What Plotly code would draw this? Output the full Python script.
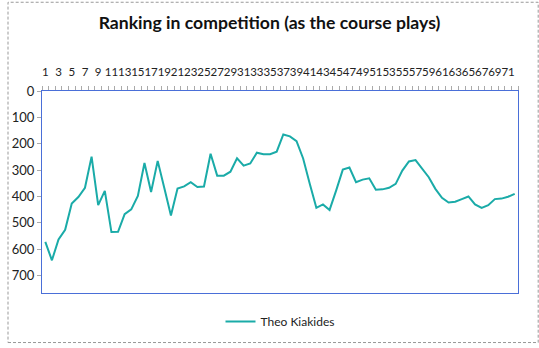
import plotly.graph_objects as go

rounds = list(range(1, 73))
ranking = [572, 642, 563, 526, 427, 402, 367, 249, 433, 379,
           535, 534, 467, 449, 398, 273, 383, 265, 368, 472,
           370, 362, 346, 364, 362, 238, 321, 321, 306, 255,
           283, 275, 234, 240, 240, 230, 165, 172, 190, 256,
           352, 443, 430, 451, 377, 298, 290, 346, 336, 331,
           374, 373, 367, 352, 302, 267, 262, 296, 327, 371,
           405, 423, 420, 410, 400, 430, 443, 433, 410, 408,
           401, 390]
x_tick_labels = [str(v) for v in range(1, 72, 2)]
y_ticks = [0, 100, 200, 300, 400, 500, 600, 700]

W, H = 539, 348
ML, MR, MT, MB = 35, 21, 91, 51
pw, ph = W - ML - MR, H - MT - MB

fig = go.Figure()
fig.add_trace(go.Scatter(x=rounds, y=ranking, mode="lines", name="Theo Kiakides",
                         line=dict(color="#1AABA8", width=2)))

fig.update_layout(
    width=W, height=H,
    margin=dict(l=ML, r=MR, t=MT, b=MB),
    paper_bgcolor="white", plot_bgcolor="white",
    font=dict(family="Lato", color="#222222"),
    title=dict(text="<b>Ranking in competition (as the course plays)</b>",
               x=0.5, xanchor="center", y=1 - 23 / H, yanchor="middle",
               font=dict(size=17.6, family="Lato", color="#111111")),
    showlegend=True,
    legend=dict(orientation="h", x=0.5, xanchor="center", y=-(326 - MT - ph) / ph, yanchor="middle",
                font=dict(size=12, family="Lato", color="#222222"), itemwidth=30),
    xaxis=dict(side="top", range=[0.5, 72.5], tickmode="array",
               tickvals=list(range(1, 72, 2)), ticktext=x_tick_labels,
               tickangle=0, ticklabelstandoff=9,
               ticks="", showgrid=False, zeroline=False,
               showline=True, linecolor="#4A6FD8", linewidth=1, mirror=True,
               tickfont=dict(size=11.5, family="Lato", color="#222222"),
               minor=dict(ticks="outside", tick0=0.5, dtick=1, ticklen=4, tickcolor="#AAAAAA")),
    yaxis=dict(range=[766, 0], tickmode="array", tickvals=y_ticks,
               ticks="outside", ticklen=4, tickcolor="#AAAAAA",
               showgrid=False, zeroline=False,
               showline=True, linecolor="#4A6FD8", linewidth=1, mirror=True,
               tickfont=dict(size=13, family="Lato", color="#222222")),
)

fig.add_shape(type="rect", xref="paper", yref="paper",
              x0=(0.5 - ML) / pw, x1=(W - 0.5 - ML) / pw,
              y0=-(MB - 0.5) / ph, y1=1 + (MT - 0.5) / ph,
              line=dict(color="#999999", width=1, dash="3px,2px"), layer="below")

fig.write_html("out.html")
